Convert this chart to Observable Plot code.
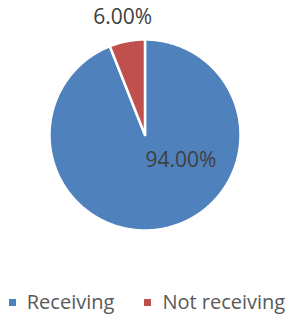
<!DOCTYPE html>
<html><head><meta charset="utf-8">
<script src="https://cdn.jsdelivr.net/npm/d3@7"></script>
<script src="https://cdn.jsdelivr.net/npm/@observablehq/plot@0.6"></script>
<style>
body{margin:0;background:#fff;font-family:"Open Sans",sans-serif;width:294px;}
#legend{display:flex;justify-content:center;align-items:center;height:32px;margin-top:4px;font-size:20px;color:#595959;line-height:32px;white-space:nowrap;}
#legend .item{display:flex;align-items:center;}
#legend .sw{width:7px;height:7px;margin-right:11px;}
#legend .item + .item{margin-left:30px;}
</style></head><body><div id="chart"></div><div id="legend"></div>
<script>
const categories = ["Receiving", "Not receiving"];
const shares = [94.0, 6.0];
const labels = ["94.00%", "6.00%"];
const colors = ["#4F81BD", "#C0504D"];

const total = d3.sum(shares);
let acc = 0;
const slices = categories.map((c, i) => {
  const a0 = acc / total * 2 * Math.PI; acc += shares[i];
  const a1 = acc / total * 2 * Math.PI;
  return {c, a0, a1, i};
});
const pts = [];
for (const s of slices) {
  pts.push({c: s.c, x: 0, y: 0});
  const n = Math.max(2, Math.ceil((s.a1 - s.a0) / (Math.PI / 360)));
  for (let k = 0; k <= n; k++) {
    const a = s.a0 + (s.a1 - s.a0) * k / n;
    pts.push({c: s.c, x: Math.sin(a), y: Math.cos(a)});
  }
}
const lbls = slices.map(s => {
  const big = shares[s.i] > 50;
  const a = big ? s.a0 + 0.37 * (s.a1 - s.a0) : (s.a0 + s.a1) / 2;
  const r = big ? 0.46 : 1.25;
  return {x: r * Math.sin(a), y: r * Math.cos(a), text: labels[s.i]};
});

const chart = Plot.plot({
  width: 294, height: 282,
  marginLeft: 49, marginRight: 54, marginTop: 39, marginBottom: 52,
  x: {domain: [-1, 1], axis: null},
  y: {domain: [-1, 1], axis: null},
  color: {domain: categories, range: colors},
  style: {fontFamily: "Open Sans", background: "#fff"},
  marks: [
    Plot.line(pts, {x: "x", y: "y", z: "c", fill: "c", stroke: "white", strokeWidth: 2.5, curve: "linear-closed"}),
    Plot.text(lbls, {x: "x", y: "y", text: "text", fontSize: 21, fill: "#404040"})
  ]
});
document.getElementById("chart").appendChild(chart);

const legend = document.getElementById("legend");
categories.forEach((c, i) => {
  const it = document.createElement("div"); it.className = "item";
  const sw = document.createElement("div"); sw.className = "sw"; sw.style.background = colors[i];
  const tx = document.createElement("span"); tx.textContent = c;
  it.appendChild(sw); it.appendChild(tx); legend.appendChild(it);
});
</script></body></html>
